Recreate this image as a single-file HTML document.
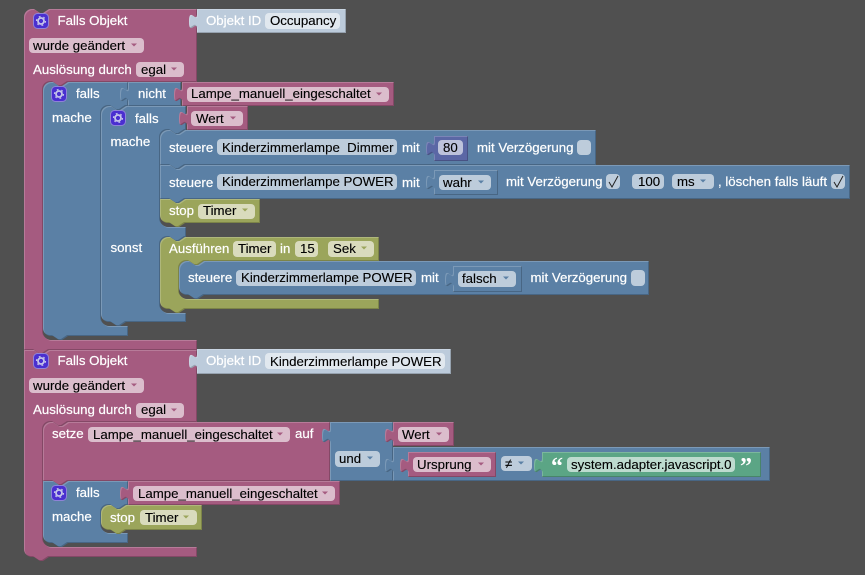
<!DOCTYPE html>
<html><head><meta charset="utf-8"><style>
html,body{margin:0;padding:0;background:#505050;width:865px;height:575px;overflow:hidden}
svg{display:block;position:absolute;left:0;top:0}
text{font-family:"Liberation Sans",sans-serif;font-size:13.25px;white-space:pre}
.l{fill:#fff;stroke:#fff;stroke-width:.2}.t{fill:#000;stroke:#000;stroke-width:.12}
.p{fill:#a55b80;filter:url(#b)}.u{fill:#5b80a5;filter:url(#b)}.o{fill:#9ba55b;filter:url(#b)}.g{fill:#5ba585;filter:url(#b)}.v{fill:#5b67a5;filter:url(#b)}.i{fill:#bccbdb;filter:url(#b)}
.fp{fill:#dbbdcc}.fu{fill:#bdccdb}.fo{fill:#d9dbbd}.fi{fill:#e1e8ef}.fg{fill:#bddbcf}.fv{fill:#bdc2db}
</style></head><body>
<svg width="865" height="575" viewBox="0 0 865 575" xmlns="http://www.w3.org/2000/svg">
<defs>
<filter id="b" filterUnits="userSpaceOnUse" x="0" y="0" width="865" height="575" color-interpolation-filters="sRGB">
<feOffset in="SourceAlpha" dx="1" dy="1" result="o1"/>
<feComposite in="SourceAlpha" in2="o1" operator="out" result="e1"/>
<feFlood flood-color="#fff" flood-opacity=".2"/><feComposite in2="e1" operator="in" result="hi"/>
<feOffset in="SourceAlpha" dx="-1" dy="-1" result="o2"/>
<feComposite in="SourceAlpha" in2="o2" operator="out" result="e2"/>
<feFlood flood-color="#000" flood-opacity=".2"/><feComposite in2="e2" operator="in" result="lo"/>
<feMerge><feMergeNode in="SourceGraphic"/><feMergeNode in="hi"/><feMergeNode in="lo"/></feMerge>
</filter>
<polygon id="a" points="-3,-1.5 3,-1.5 0,1.5"/>
<g id="gear">
<rect x=".5" y=".5" width="15" height="15" rx="4" fill="#4a2fd0" stroke="#8f82d8"/>
<circle cx="8" cy="8" r="3" fill="none" stroke="#c4c4ea" stroke-width="1.8"/>
<circle cx="8" cy="8" r="4.5" fill="none" stroke="#c4c4ea" stroke-width="1.2" stroke-dasharray="1.8 2.9"/>
</g>
<path id="c" d="M3,8 l3,5 l6,-11" fill="none" stroke="#222" stroke-width="1"/>
</defs>

<!-- Block 1 -->
<path class="p" d="M24,17a8,8 0 0 1 8,-8h2l6,4 3,0 6,-4H197V82H68l-6,4 -3,0 -6,-4H51a8,8 0 0 0 -8,8V332a8,8 0 0 0 8,8H197V350H49l-6,4 -3,0 -6,-4H24Z"/>
<path class="i" d="M197,9H346V33H197V29c0,-10 -8,8 -8,-7.5s8,2.5 8,-7.5Z"/>
<path class="u" d="M43,90a8,8 0 0 1 8,-8h2l6,4 3,0 6,-4H128V106H126l-6,4 -3,0 -6,-4H109a8,8 0 0 0 -8,8V318a8,8 0 0 0 8,8H128V336H68l-6,4 -3,0 -6,-4H51a8,8 0 0 1 -8,-8Z"/>
<path class="u" d="M128,82H181V106H128V102c0,-10 -8,8 -8,-7.5s8,2.5 8,-7.5Z"/>
<path class="p" d="M182,82H394V106H182V102c0,-10 -8,8 -8,-7.5s8,2.5 8,-7.5Z"/>
<path class="u" d="M101,114a8,8 0 0 1 8,-8h2l6,4 3,0 6,-4H186V130H185l-6,4 -3,0 -6,-4H168a8,8 0 0 0 -8,8V219a8,8 0 0 0 8,8H186V237H185l-6,4 -3,0 -6,-4H168a8,8 0 0 0 -8,8V305a8,8 0 0 0 8,8H186V322H126l-6,4 -3,0 -6,-4H109a8,8 0 0 1 -8,-8Z"/>
<path class="p" d="M187,106H248V130H187V126c0,-10 -8,8 -8,-7.5s8,2.5 8,-7.5Z"/>
<path class="u" d="M160,138a8,8 0 0 1 8,-8h2l6,4 3,0 6,-4H596V165H185l-6,4 -3,0 -6,-4H160Z"/>
<path class="v" d="M434,136H468V161H434V156c0,-10 -8,8 -8,-7.5s8,2.5 8,-7.5Z"/>
<path class="u" d="M160,165h10l6,4 3,0 6,-4H850V199H185l-6,4 -3,0 -6,-4H160Z"/>
<path class="u" d="M434,170H498V195H434V190c0,-10 -8,8 -8,-7.5s8,2.5 8,-7.5Z"/>
<path class="o" d="M160,199h10l6,4 3,0 6,-4H260V223H185l-6,4 -3,0 -6,-4H168a8,8 0 0 1 -8,-8Z"/>
<path class="o" d="M160,245a8,8 0 0 1 8,-8h2l6,4 3,0 6,-4H379V261H204l-6,4 -3,0 -6,-4H187a8,8 0 0 0 -8,8V291a8,8 0 0 0 8,8H379V309H185l-6,4 -3,0 -6,-4H168a8,8 0 0 1 -8,-8Z"/>
<path class="u" d="M179,269a8,8 0 0 1 8,-8h2l6,4 3,0 6,-4H649V295H204l-6,4 -3,0 -6,-4H187a8,8 0 0 1 -8,-8Z"/>
<path class="u" d="M453,266H522V292H453V287c0,-10 -8,8 -8,-7.5s8,2.5 8,-7.5Z"/>

<!-- Block 2 -->
<path class="p" d="M24,350h10l6,4 3,0 6,-4H197V422H68l-6,4 -3,0 -6,-4H51a8,8 0 0 0 -8,8V539a8,8 0 0 0 8,8H197V557H49l-6,4 -3,0 -6,-4H32a8,8 0 0 1 -8,-8Z"/>
<path class="i" d="M197,349H451V374H197V369c0,-10 -8,8 -8,-7.5s8,2.5 8,-7.5Z"/>
<path class="p" d="M43,430a8,8 0 0 1 8,-8h2l6,4 3,0 6,-4H330V481H68l-6,4 -3,0 -6,-4H43Z"/>
<path class="u" d="M330,422H393V481H330V443c0,-10 -8,8 -8,-7.5s8,2.5 8,-7.5Z"/>
<path class="p" d="M393,422H454V446H393V443c0,-10 -8,8 -8,-7.5s8,2.5 8,-7.5Z"/>
<path class="u" d="M393,447H770V481H393V473c0,-10 -8,8 -8,-7.5s8,2.5 8,-7.5Z"/>
<path class="p" d="M408,452H496V477H408V473c0,-10 -8,8 -8,-7.5s8,2.5 8,-7.5Z"/>
<path class="g" d="M542,452H761V477H542V473c0,-10 -8,8 -8,-7.5s8,2.5 8,-7.5Z"/>
<path class="u" d="M43,481h10l6,4 3,0 6,-4H128V505H126l-6,4 -3,0 -6,-4H109a8,8 0 0 0 -8,8V525a8,8 0 0 0 8,8H128V543H68l-6,4 -3,0 -6,-4H51a8,8 0 0 1 -8,-8Z"/>
<path class="p" d="M128,481H340V505H128V501c0,-10 -8,8 -8,-7.5s8,2.5 8,-7.5Z"/>
<path class="o" d="M101,513a8,8 0 0 1 8,-8h2l6,4 3,0 6,-4H202V530H126l-6,4 -3,0 -6,-4H109a8,8 0 0 1 -8,-8Z"/>

<!-- Icons -->
<use href="#gear" x="33" y="13"/><use href="#gear" x="51" y="86"/><use href="#gear" x="110" y="110"/>
<use href="#gear" x="33" y="353"/><use href="#gear" x="51" y="485"/>

<!-- Fields -->
<g>
<rect class="fi" x="265" y="13" width="75" height="16" rx="4"/>
<rect class="fp" x="29" y="38" width="115" height="15" rx="4"/>
<rect class="fp" x="136" y="62" width="48" height="15" rx="4"/>
<rect class="fp" x="187" y="87" width="202" height="15" rx="4"/>
<rect class="fp" x="191" y="111" width="52" height="15" rx="4"/>
<rect class="fu" x="217" y="139" width="180" height="16" rx="4"/>
<rect class="fv" x="438" y="140" width="25" height="15" rx="4"/>
<rect class="fu" x="577" y="140" width="14" height="15" rx="4"/>
<rect class="fu" x="217" y="174" width="180" height="16" rx="4"/>
<rect class="fu" x="439" y="175" width="52" height="15" rx="4"/>
<rect class="fu" x="606" y="174" width="14" height="15" rx="4"/>
<rect class="fu" x="632" y="174" width="32" height="15" rx="4"/>
<rect class="fu" x="672" y="174" width="42" height="15" rx="4"/>
<rect class="fu" x="831" y="174" width="14" height="15" rx="4"/>
<rect class="fo" x="198" y="204" width="57" height="15" rx="4"/>
<rect class="fo" x="233" y="241" width="43" height="16" rx="4"/>
<rect class="fo" x="295" y="241" width="23" height="16" rx="4"/>
<rect class="fo" x="328" y="241" width="46" height="16" rx="4"/>
<rect class="fu" x="236" y="270" width="180" height="16" rx="4"/>
<rect class="fu" x="458" y="271" width="58" height="16" rx="4"/>
<rect class="fu" x="631" y="270" width="14" height="16" rx="4"/>
<rect class="fi" x="265" y="353" width="180" height="16" rx="4"/>
<rect class="fp" x="29" y="378" width="115" height="15" rx="4"/>
<rect class="fp" x="136" y="403" width="48" height="15" rx="4"/>
<rect class="fp" x="88" y="427" width="202" height="15" rx="4"/>
<rect class="fu" x="335" y="451" width="45" height="16" rx="4"/>
<rect class="fp" x="398" y="427" width="51" height="15" rx="4"/>
<rect class="fp" x="413" y="457" width="78" height="15" rx="4"/>
<rect class="fu" x="501" y="456" width="31" height="15" rx="4"/>
<rect class="fg" x="567" y="457" width="168" height="15" rx="4"/>
<rect class="fp" x="133" y="486" width="202" height="15" rx="4"/>
<rect class="fo" x="140" y="510" width="57" height="15" rx="4"/>
</g>

<!-- Dropdown arrows -->
<g fill="#a55b80">
<use href="#a" x="134" y="45"/><use href="#a" x="174" y="69"/><use href="#a" x="379" y="94"/><use href="#a" x="233" y="118"/>
<use href="#a" x="134" y="385"/><use href="#a" x="174" y="410"/><use href="#a" x="280" y="434"/><use href="#a" x="439" y="434"/><use href="#a" x="481" y="464"/><use href="#a" x="325" y="493"/>
</g>
<g fill="#5b80a5">
<use href="#a" x="481" y="182"/><use href="#a" x="703" y="181"/><use href="#a" x="506" y="278"/><use href="#a" x="370" y="458"/><use href="#a" x="521" y="463"/>
</g>
<g fill="#9ba55b">
<use href="#a" x="245" y="210"/><use href="#a" x="364" y="248"/><use href="#a" x="186" y="517"/>
</g>

<!-- Check marks -->
<use href="#c" x="606" y="174"/><use href="#c" x="831" y="174"/>

<!-- Labels -->
<g class="l">
<text x="57.5" y="25">Falls Objekt</text>
<text x="206" y="25">Objekt ID</text>
<text x="33" y="74">Auslösung durch</text>
<text x="76" y="98">falls</text>
<text x="138" y="98">nicht</text>
<text x="52" y="122">mache</text>
<text x="135" y="123">falls</text>
<text x="110.500" y="146">mache</text>
<text x="169" y="152">steuere</text>
<text x="402" y="152">mit</text>
<text x="477" y="152">mit Verzögerung</text>
<text x="169" y="187">steuere</text>
<text x="402" y="187">mit</text>
<text x="506" y="186">mit Verzögerung</text>
<text x="718" y="186">, löschen falls läuft</text>
<text x="169" y="215">stop</text>
<text x="110.500" y="252">sonst</text>
<text x="169" y="253">Ausführen</text>
<text x="280" y="253">in</text>
<text x="188" y="282">steuere</text>
<text x="421" y="282">mit</text>
<text x="530.500" y="282">mit Verzögerung</text>
<text x="57.500" y="365">Falls Objekt</text>
<text x="206" y="365">Objekt ID</text>
<text x="33" y="414">Auslösung durch</text>
<text x="52" y="438">setze</text>
<text x="295" y="438">auf</text>
<text x="76" y="497">falls</text>
<text x="52" y="521">mache</text>
<text x="110" y="522">stop</text>
</g>
<g class="t">
<text x="270" y="25">Occupancy</text>
<text x="33" y="50">wurde geändert</text>
<text x="141" y="74">egal</text>
<text x="191" y="98">Lampe_manuell_eingeschaltet</text>
<text x="196" y="123">Wert</text>
<text x="222" y="152">Kinderzimmerlampe  Dimmer</text>
<text x="443" y="152">80</text>
<text x="222" y="186">Kinderzimmerlampe POWER</text>
<text x="443" y="187">wahr</text>
<text x="638" y="186">100</text>
<text x="677" y="186">ms</text>
<text x="203" y="215">Timer</text>
<text x="238" y="253">Timer</text>
<text x="300" y="253">15</text>
<text x="333" y="253">Sek</text>
<text x="241" y="282">Kinderzimmerlampe POWER</text>
<text x="462" y="283">falsch</text>
<text x="270" y="366">Kinderzimmerlampe POWER</text>
<text x="33" y="390">wurde geändert</text>
<text x="141" y="414">egal</text>
<text x="93" y="439">Lampe_manuell_eingeschaltet</text>
<text x="339" y="463">und</text>
<text x="402" y="439">Wert</text>
<text x="417" y="469">Ursprung</text>
<text x="505" y="468">≠</text>
<text x="571" y="469">system.adapter.javascript.0</text>
<text x="138" y="498">Lampe_manuell_eingeschaltet</text>
<text x="145" y="522">Timer</text>
</g>
<text x="551" y="474" fill="#fff" style="font-family:'Liberation Serif',serif;font-size:24px;font-weight:bold">“</text>
<text x="740" y="474" fill="#fff" style="font-family:'Liberation Serif',serif;font-size:24px;font-weight:bold">”</text>
</svg>
</body></html>
